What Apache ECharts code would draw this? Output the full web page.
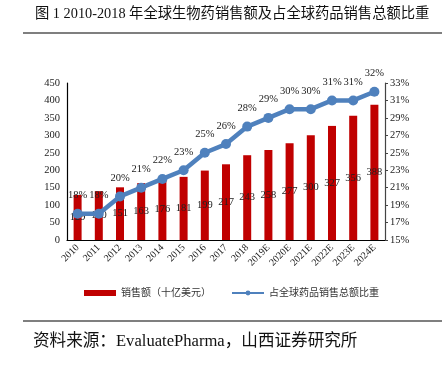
<!DOCTYPE html>
<html><head><meta charset="utf-8">
<script src="https://cdn.jsdelivr.net/npm/echarts@6/dist/echarts.min.js"></script>
<style>html,body{margin:0;padding:0;background:#fff}#c{width:442px;height:389px}</style>
</head><body><div id="c"></div>
<script>
const categories = ['2010','2011','2012','2013','2014','2015','2016','2017','2018','2019E','2020E','2021E','2022E','2023E','2024E'];
const sales = [129,140,151,163,176,181,199,217,243,258,277,300,327,356,388];
const share = [18,18,20,21,22,23,25,26,28,29,30,30,31,31,32];
const seriesNames = ['销售额（十亿美元）','占全球药品销售总额比重'];
const titleText = '图 1 2010-2018 年全球生物药销售额及占全球药品销售总额比重';
const sourceText = '资料来源：EvaluatePharma，山西证券研究所';

const serif = '"Liberation Serif","Noto Sans CJK SC",serif';
const chart = echarts.init(document.getElementById('c'));
chart.setOption({
  animation:false,
  backgroundColor:'#fff',
  textStyle:{fontFamily:serif},
  graphic:[
    {type:'text',left:35,top:7,style:{text:titleText,font:'14.3px '+serif,fill:'#111'}},
    {type:'line',shape:{x1:23,y1:33,x2:442,y2:33},style:{stroke:'#000',lineWidth:1.2}},
    {type:'line',shape:{x1:23,y1:321,x2:442,y2:321},style:{stroke:'#000',lineWidth:1.2}},
    {type:'text',left:33,top:333,style:{text:sourceText,font:'16.6px '+serif,fill:'#111'}}
  ],
  grid:{left:67,right:57,top:83,bottom:149,containLabel:false},
  legend:{
    top:288,left:84,itemGap:20,padding:0,
    textStyle:{fontSize:10,color:'#333',fontFamily:serif},
    data:[
      {name:seriesNames[0],icon:'rect',itemStyle:{color:'#C00000'}},
      {name:seriesNames[1]}
    ],
    itemWidth:32,itemHeight:6
  },
  xAxis:{type:'category',data:categories,
    axisLine:{lineStyle:{color:'#000',width:1.2}},axisTick:{show:false},
    axisLabel:{rotate:45,fontSize:10,color:'#222',fontFamily:serif,interval:0,margin:6}},
  yAxis:[
    {type:'value',min:0,max:450,interval:50,
      axisLine:{show:true,lineStyle:{color:'#000',width:1.2}},axisTick:{show:false},splitLine:{show:false},
      axisLabel:{fontSize:10.5,color:'#222',fontFamily:serif,margin:7}},
    {type:'value',min:15,max:33,interval:2,position:'right',
      axisLine:{show:true,lineStyle:{color:'#444',width:1.2}},axisTick:{show:true,inside:false,length:3,lineStyle:{color:'#444'}},splitLine:{show:false},
      axisLabel:{fontSize:10.5,color:'#222',fontFamily:serif,formatter:'{value}%',margin:5}}
  ],
  series:[
    {name:seriesNames[0],type:'bar',data:sales,barWidth:8,itemStyle:{color:'#C00000'},
      label:{show:true,position:'inside',color:'#222',fontSize:10.5,fontFamily:serif}},
    {name:seriesNames[1],type:'line',yAxisIndex:1,data:share,
      symbol:'circle',symbolSize:10,lineStyle:{color:'#4F81BD',width:4.5},itemStyle:{color:'#4F81BD'},
      label:{show:true,position:'top',distance:8,color:'#222',fontSize:10.5,fontFamily:serif,formatter:'{c}%'}}
  ]
});
</script></body></html>
